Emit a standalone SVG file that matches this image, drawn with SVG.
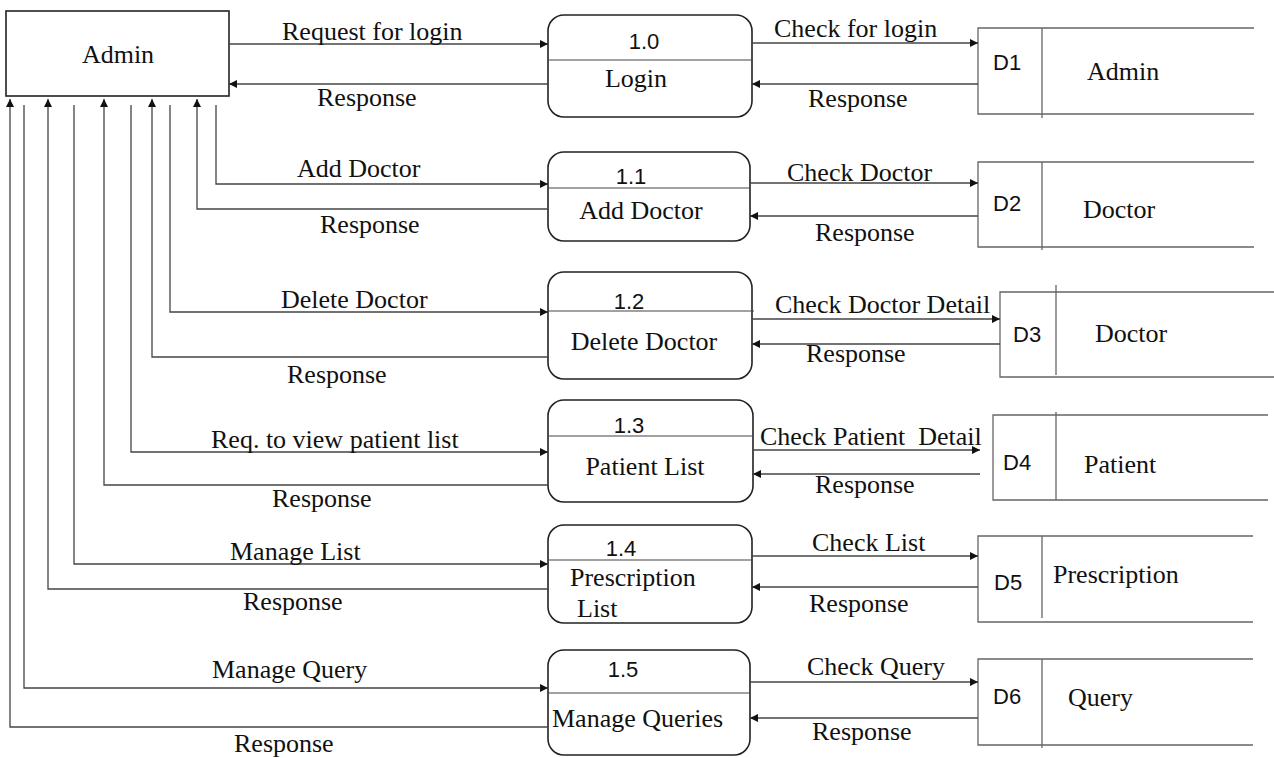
<svg xmlns="http://www.w3.org/2000/svg" width="1274" height="758" viewBox="0 0 1274 758">
<style>
.lbl{font-family:"Liberation Serif","Times New Roman",serif;font-size:26px;fill:#111}
.num{font-family:"Liberation Sans",Arial,sans-serif;font-size:22px;fill:#111}
.proc{fill:#fff;stroke:#222;stroke-width:1.6}
.div{stroke:#444;stroke-width:1.2;fill:none}
.store{stroke:#666;stroke-width:1.3;fill:none}
.con{stroke:#444;stroke-width:1.3;fill:none}
.arr{marker-end:url(#ah)}
</style>
<defs>
<marker id="ah" markerUnits="userSpaceOnUse" markerWidth="9" markerHeight="8" refX="8" refY="4" orient="auto">
<path d="M0,0 L8,4 L0,8 z" fill="#111"/>
</marker>
</defs>
<rect width="1274" height="758" fill="#fff"/>

<g id="admin">
<rect x="6" y="11" width="223" height="85" fill="#fff" stroke="#222" stroke-width="1.6"/>
<text class="lbl" x="118" y="63" text-anchor="middle">Admin</text>
</g>

<g id="p10">
<rect class="proc" x="548" y="15" width="204" height="102" rx="16"/>
<line class="div" x1="548" y1="60" x2="752" y2="60"/>
<text class="num" x="644" y="49" text-anchor="middle">1.0</text>
<text class="lbl" x="636" y="87" text-anchor="middle">Login</text>
</g>
<g id="p11">
<rect class="proc" x="548" y="152" width="202" height="89" rx="16"/>
<line class="div" x1="548" y1="188" x2="750" y2="188"/>
<text class="num" x="631" y="184" text-anchor="middle">1.1</text>
<text class="lbl" x="641" y="219" text-anchor="middle">Add Doctor</text>
</g>
<g id="p12">
<rect class="proc" x="548" y="272" width="204" height="107" rx="16"/>
<line class="div" x1="548" y1="311" x2="754" y2="311"/>
<text class="num" x="629" y="309" text-anchor="middle">1.2</text>
<text class="lbl" x="644" y="350" text-anchor="middle">Delete Doctor</text>
</g>
<g id="p13">
<rect class="proc" x="548" y="400" width="205" height="102" rx="16"/>
<line class="div" x1="548" y1="436" x2="753" y2="436"/>
<text class="num" x="629" y="433" text-anchor="middle">1.3</text>
<text class="lbl" x="645" y="475" text-anchor="middle">Patient List</text>
</g>
<g id="p14">
<rect class="proc" x="548" y="525" width="204" height="98" rx="16"/>
<line class="div" x1="548" y1="560" x2="752" y2="560"/>
<text class="num" x="621" y="556" text-anchor="middle">1.4</text>
<text class="lbl" x="570" y="586">Prescription</text>
<text class="lbl" x="577" y="617">List</text>
</g>
<g id="p15">
<rect class="proc" x="548" y="650" width="202" height="105" rx="16"/>
<line class="div" x1="548" y1="693" x2="750" y2="693"/>
<text class="num" x="623" y="677" text-anchor="middle">1.5</text>
<text class="lbl" x="552" y="727">Manage Queries</text>
</g>

<g id="d1">
<path class="store" d="M1254,28 H978 V114 H1254 M1042,28 V118"/>
<text class="num" x="993" y="70">D1</text>
<text class="lbl" x="1087" y="80">Admin</text>
</g>
<g id="d2">
<path class="store" d="M1254,162 H978 V247 H1254 M1042,162 V250"/>
<text class="num" x="993" y="211">D2</text>
<text class="lbl" x="1083" y="218">Doctor</text>
</g>
<g id="d3">
<path class="store" d="M1274,292 H1000 V377 H1274 M1056,285 V375"/>
<text class="num" x="1013" y="342">D3</text>
<text class="lbl" x="1095" y="342">Doctor</text>
</g>
<g id="d4">
<path class="store" d="M1268,415 H993 V500 H1268 M1056,412 V500"/>
<text class="num" x="1003" y="470">D4</text>
<text class="lbl" x="1084" y="473">Patient</text>
</g>
<g id="d5">
<path class="store" d="M1253,536 H978 V622 H1253 M1042,536 V618"/>
<text class="num" x="994" y="590">D5</text>
<text class="lbl" x="1053" y="583">Prescription</text>
</g>
<g id="d6">
<path class="store" d="M1253,659 H978 V745 H1253 M1042,659 V748"/>
<text class="num" x="993" y="704">D6</text>
<text class="lbl" x="1068" y="706">Query</text>
</g>

<g id="connectors">
<path class="con arr" d="M229,44 H548"/>
<path class="con arr" d="M548,84 H229"/>
<path class="con arr" d="M216,105 V184 H548"/>
<path class="con arr" d="M548,209 H197 V99"/>
<path class="con arr" d="M170,105 V312 H548"/>
<path class="con arr" d="M548,357 H152 V99"/>
<path class="con arr" d="M131,105 V452 H548"/>
<path class="con arr" d="M548,485 H104 V99"/>
<path class="con arr" d="M74,105 V564 H548"/>
<path class="con arr" d="M548,589 H48 V99"/>
<path class="con arr" d="M24,105 V688 H548"/>
<path class="con arr" d="M548,727 H10 V99"/>

<path class="con arr" d="M752,43 H978"/>
<path class="con arr" d="M978,84 H752"/>
<path class="con arr" d="M750,183 H978"/>
<path class="con arr" d="M978,216 H750"/>
<path class="con arr" d="M752,319 H1000"/>
<path class="con arr" d="M1000,344 H752"/>
<path class="con arr" d="M753,450 H980"/>
<path class="con arr" d="M980,474 H753"/>
<path class="con arr" d="M752,556 H978"/>
<path class="con arr" d="M978,587 H752"/>
<path class="con arr" d="M750,682 H978"/>
<path class="con arr" d="M978,718 H750"/>

<text class="lbl" x="282" y="40">Request for login</text>
<text class="lbl" x="317" y="106">Response</text>
<text class="lbl" x="297" y="177">Add Doctor</text>
<text class="lbl" x="320" y="233">Response</text>
<text class="lbl" x="281" y="308">Delete Doctor</text>
<text class="lbl" x="287" y="383">Response</text>
<text class="lbl" x="211" y="448">Req. to view patient list</text>
<text class="lbl" x="272" y="507">Response</text>
<text class="lbl" x="230" y="560">Manage List</text>
<text class="lbl" x="243" y="610">Response</text>
<text class="lbl" x="212" y="678">Manage Query</text>
<text class="lbl" x="234" y="752">Response</text>

<text class="lbl" x="774" y="37">Check for login</text>
<text class="lbl" x="808" y="107">Response</text>
<text class="lbl" x="787" y="181">Check Doctor</text>
<text class="lbl" x="815" y="241">Response</text>
<text class="lbl" x="775" y="313">Check Doctor Detail</text>
<text class="lbl" x="806" y="362">Response</text>
<text class="lbl" x="760" y="445" xml:space="preserve">Check Patient  Detail</text>
<text class="lbl" x="815" y="493">Response</text>
<text class="lbl" x="812" y="551">Check List</text>
<text class="lbl" x="809" y="612">Response</text>
<text class="lbl" x="807" y="675">Check Query</text>
<text class="lbl" x="812" y="740">Response</text>
</g>
</svg>
